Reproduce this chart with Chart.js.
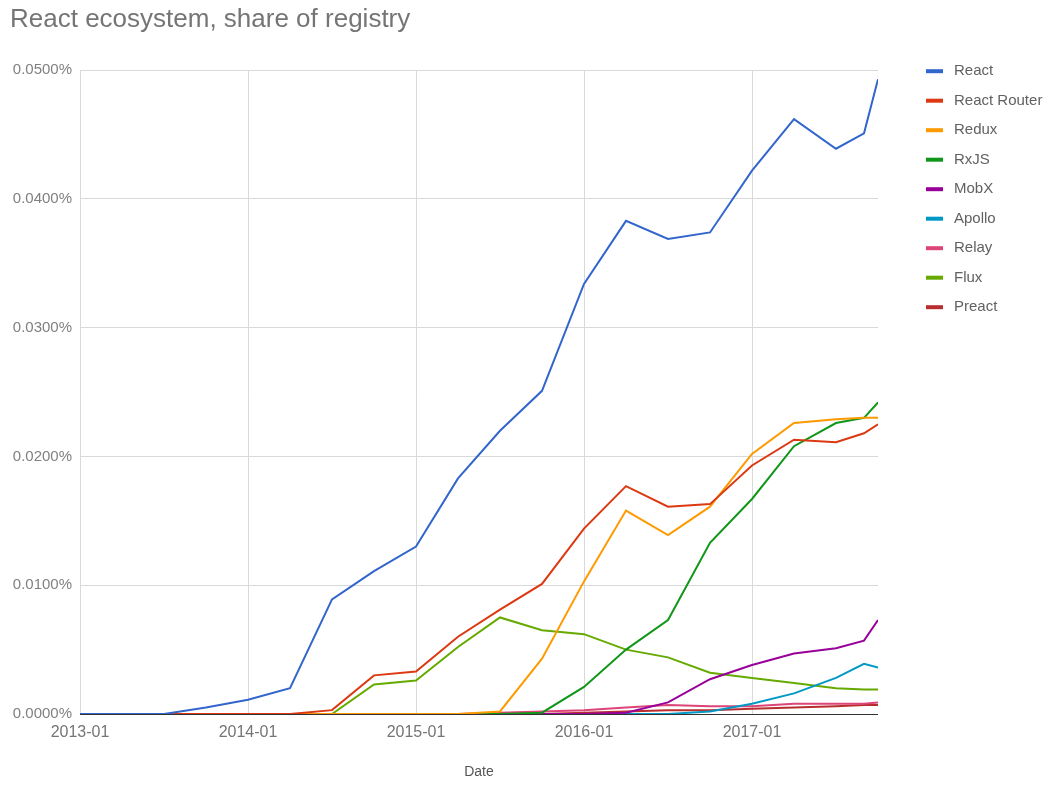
<!DOCTYPE html>
<html>
<head>
<meta charset="utf-8">
<title>React ecosystem, share of registry</title>
<script src="https://cdn.jsdelivr.net/npm/chart.js@4/dist/chart.umd.min.js"></script>
<style>
    html, body { margin: 0; padding: 0; background: #ffffff; }
    #contenedor { width: 1052px; height: 785px; }
</style>
</head>
<body>
<div id="contenedor"><canvas id="grafica" width="1052" height="785"></canvas></div>
<script>
/* ==========================================================================
   DATOS (% del registro npm)
   ========================================================================== */
const fechas = ['2013-01', '2013-04', '2013-07', '2013-10', '2014-01', '2014-04', '2014-07', '2014-10',
    '2015-01', '2015-04', '2015-07', '2015-10', '2016-01', '2016-04', '2016-07', '2016-10',
    '2017-01', '2017-04', '2017-07', '2017-09', '2017-10'];

const etiquetasEje = ['2013-01', '2014-01', '2015-01', '2016-01', '2017-01'];

const react =       [0, 0, 0, 0.0005, 0.0011, 0.0020, 0.0089, 0.0111, 0.0130, 0.0183, 0.0220, 0.0251, 0.0334, 0.0383, 0.0369, 0.0374, 0.0422, 0.0462, 0.0439, 0.0451, 0.0493];
const reactRouter = [0, 0, 0, 0, 0, 0, 0.0003, 0.0030, 0.0033, 0.0060, 0.0081, 0.0101, 0.0144, 0.0177, 0.0161, 0.0163, 0.0193, 0.0213, 0.0211, 0.0218, 0.0225];
const redux =       [0, 0, 0, 0, 0, 0, 0, 0, 0, 0, 0.0002, 0.0043, 0.0103, 0.0158, 0.0139, 0.0161, 0.0202, 0.0226, 0.0229, 0.0230, 0.0230];
const rxjs =        [0, 0, 0, 0, 0, 0, 0, 0, 0, 0, 0, 0.0001, 0.0021, 0.0050, 0.0073, 0.0133, 0.0167, 0.0208, 0.0226, 0.0230, 0.0242];
const mobx =        [0, 0, 0, 0, 0, 0, 0, 0, 0, 0, 0, 0, 0, 0.0001, 0.0009, 0.0027, 0.0038, 0.0047, 0.0051, 0.0057, 0.0073];
const apollo =      [0, 0, 0, 0, 0, 0, 0, 0, 0, 0, 0, 0, 0, 0, 0, 0.0002, 0.0008, 0.0016, 0.0028, 0.0039, 0.0036];
const relay =       [0, 0, 0, 0, 0, 0, 0, 0, 0, 0, 0.0001, 0.0002, 0.0003, 0.0005, 0.0007, 0.0006, 0.0006, 0.0008, 0.0008, 0.0008, 0.0009];
const flux =        [0, 0, 0, 0, 0, 0, 0, 0.0023, 0.0026, 0.0052, 0.0075, 0.0065, 0.0062, 0.0050, 0.0044, 0.0032, 0.0028, 0.0024, 0.0020, 0.0019, 0.0019];
const preact =      [0, 0, 0, 0, 0, 0, 0, 0, 0, 0, 0, 0, 0.0001, 0.0002, 0.0003, 0.0003, 0.0004, 0.0005, 0.0006, 0.0007, 0.0007];

const series = [
    { nombre: 'React', valores: react, color: '#3366cc' },
    { nombre: 'React Router', valores: reactRouter, color: '#dc3912' },
    { nombre: 'Redux', valores: redux, color: '#ff9900' },
    { nombre: 'RxJS', valores: rxjs, color: '#109618' },
    { nombre: 'MobX', valores: mobx, color: '#990099' },
    { nombre: 'Apollo', valores: apollo, color: '#0099c6' },
    { nombre: 'Relay', valores: relay, color: '#dd4477' },
    { nombre: 'Flux', valores: flux, color: '#66aa00' },
    { nombre: 'Preact', valores: preact, color: '#b82e2e' }
];

/* ==========================================================================
   UTILIDADES
   ========================================================================== */
const FUENTE = '"Liberation Sans", Arial, sans-serif';

// meses transcurridos desde 2013-01
function mesesDesdeInicio(fecha) {
    const [anio, mes] = fecha.split('-').map(Number);
    return (anio - 2013) * 12 + (mes - 1);
}

const posicionesEje = etiquetasEje.map(mesesDesdeInicio);

// leyenda lateral al estilo de Google Charts
const leyendaLateral = {
    id: 'leyendaLateral',
    afterDraw(chart) {
        const { ctx, chartArea } = chart;
        ctx.save();
        ctx.font = '15px ' + FUENTE;
        ctx.textBaseline = 'middle';
        chart.data.datasets.forEach((ds, i) => {
            const y = chartArea.top + 1 + i * 29.5;
            ctx.fillStyle = ds.borderColor;
            ctx.fillRect(chartArea.right + 48, y - 2, 17, 4);
            ctx.fillStyle = '#616161';
            ctx.fillText(ds.label, chartArea.right + 76, y);
        });
        ctx.restore();
    }
};

/* ==========================================================================
   GRÁFICA
   ========================================================================== */
new Chart(document.getElementById('grafica'), {
    type: 'line',
    data: {
        datasets: series.map(s => ({
            label: s.nombre,
            data: s.valores.map((v, i) => ({ x: mesesDesdeInicio(fechas[i]), y: v })),
            borderColor: s.color,
            backgroundColor: s.color,
            borderWidth: 2,
            pointRadius: 0,
            tension: 0,
            fill: false
        }))
    },
    options: {
        responsive: false,
        animation: false,
        devicePixelRatio: 1,
        layout: { padding: { left: 10, right: 174, top: 0, bottom: 0 } },
        plugins: {
            legend: { display: false },
            tooltip: { enabled: false },
            title: {
                display: true,
                text: 'React ecosystem, share of registry',
                align: 'start',
                color: '#757575',
                font: { family: FUENTE, size: 26, weight: 'normal' },
                padding: { top: 4, bottom: 35 }
            }
        },
        scales: {
            x: {
                type: 'linear',
                min: 0,
                max: mesesDesdeInicio(fechas[fechas.length - 1]),
                afterBuildTicks: (eje) => { eje.ticks = posicionesEje.map(v => ({ value: v })); },
                afterFit: (eje) => { eje.height = 71; },
                ticks: {
                    color: '#757575',
                    font: { family: FUENTE, size: 16 },
                    padding: 9,
                    maxRotation: 0,
                    callback: (valor) => etiquetasEje[posicionesEje.indexOf(valor)]
                },
                grid: { color: '#d9d9d9', drawTicks: false },
                border: { display: false },
                title: {
                    display: true,
                    text: 'Date',
                    color: '#555555',
                    font: { family: FUENTE, size: 14 },
                    padding: { top: 0, bottom: 4 }
                }
            },
            y: {
                min: 0,
                max: 0.05,
                afterFit: (eje) => { eje.width = 70; },
                ticks: {
                    stepSize: 0.01,
                    color: '#808080',
                    font: { family: FUENTE, size: 15 },
                    padding: 8,
                    callback: (valor) => valor.toFixed(4) + '%'
                },
                grid: {
                    color: (c) => c.tick && c.tick.value === 0 ? '#333333' : '#d9d9d9',
                    drawTicks: false
                },
                border: { display: false }
            }
        }
    },
    plugins: [leyendaLateral]
});
</script>
</body>
</html>
